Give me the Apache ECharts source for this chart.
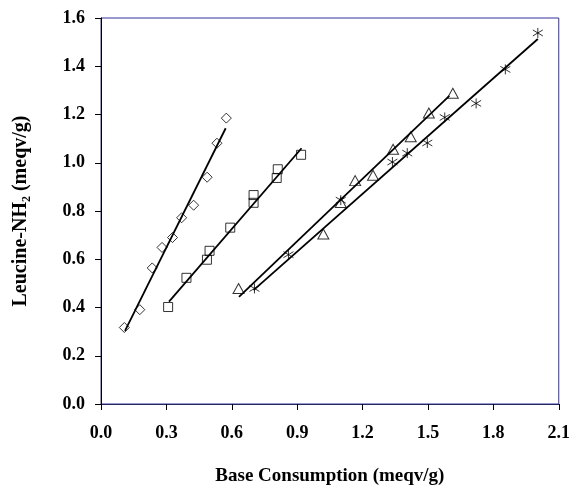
<!DOCTYPE html>
<html>
<head>
<meta charset="utf-8">
<script src="https://cdn.jsdelivr.net/npm/echarts@6/dist/echarts.min.js"></script>
<style>
html,body{margin:0;padding:0;background:#fff;}
#chart{width:573px;height:491px;}
</style>
</head>
<body>
<div id="chart"></div>
<script>
// Axis ticks
const xTicks = [0.0, 0.3, 0.6, 0.9, 1.2, 1.5, 1.8, 2.1];
const yTicks = [0.0, 0.2, 0.4, 0.6, 0.8, 1.0, 1.2, 1.4, 1.6];

// Series 1 (diamonds)
const diamondX = [0.107, 0.178, 0.235, 0.280, 0.328, 0.370, 0.425, 0.487, 0.532, 0.575];
const diamondY = [0.317, 0.391, 0.564, 0.649, 0.690, 0.772, 0.824, 0.940, 1.081, 1.185];
// Series 2 (squares)
const squareX = [0.308, 0.392, 0.486, 0.498, 0.593, 0.700, 0.700, 0.806, 0.811, 0.918];
const squareY = [0.402, 0.523, 0.598, 0.635, 0.731, 0.834, 0.866, 0.937, 0.973, 1.033];
// Series 3 (triangles)
const triangleX = [0.631, 1.020, 1.100, 1.166, 1.248, 1.340, 1.421, 1.504, 1.614];
const triangleY = [0.479, 0.705, 0.835, 0.926, 0.948, 1.056, 1.108, 1.206, 1.288];
// Series 4 (stars)
const starX = [0.704, 0.860, 1.100, 1.337, 1.405, 1.497, 1.577, 1.721, 1.855, 2.004];
const starY = [0.479, 0.619, 0.845, 1.003, 1.040, 1.082, 1.188, 1.246, 1.387, 1.538];

// Trend line end points
const diamondFitX = [0.110, 0.572];
const diamondFitY = [0.303, 1.143];
const squareFitX = [0.312, 0.920];
const squareFitY = [0.424, 1.060];
const triangleFitX = [0.633, 1.598];
const triangleFitY = [0.444, 1.277];
const starFitX = [0.700, 2.004];
const starFitY = [0.472, 1.513];

const zip = (xs, ys) => xs.map((x, i) => [x, ys[i]]);

const FONT = '"Liberation Serif", "Times New Roman", serif';
const STAR = 'path://M5,0 L5,10 M0.7,2 L9.3,8 M0.7,8 L9.3,2';

const markerStyle = {color: 'rgba(255,255,255,0)', borderColor: '#000', borderWidth: 1};

function scatter(name, xs, ys, symbol, size) {
  return {
    name, type: 'scatter', data: zip(xs, ys), symbol, symbolSize: size,
    itemStyle: markerStyle, z: 3, silent: true
  };
}
function fit(xs, ys) {
  return {
    type: 'line', data: zip(xs, ys), symbol: 'none', silent: true, z: 4,
    lineStyle: {color: '#000', width: 1.8}
  };
}

const chart = echarts.init(document.getElementById('chart'), null, {renderer: 'canvas'});
chart.setOption({
  animation: false,
  backgroundColor: '#fff',
  grid: {left: 101, right: 13, top: 18, bottom: 84, show: true, borderColor: '#3333a0', borderWidth: 1, containLabel: false},
  xAxis: {
    type: 'value', min: xTicks[0], max: xTicks[xTicks.length - 1], interval: 0.3,
    name: 'Base Consumption (meqv/g)', nameLocation: 'middle', nameGap: 63,
    nameTextStyle: {fontFamily: FONT, fontWeight: 'bold', fontSize: 19, color: '#000'},
    axisLine: {lineStyle: {color: '#262660', width: 1}},
    axisTick: {show: true, length: 6, lineStyle: {color: '#000'}},
    axisLabel: {fontFamily: FONT, fontWeight: 'bold', fontSize: 18, color: '#000', margin: 20,
      formatter: v => v.toFixed(1)},
    splitLine: {show: false}
  },
  yAxis: {
    type: 'value', min: yTicks[0], max: yTicks[yTicks.length - 1], interval: 0.2,
    name: 'Leucine-NH\u2082 (meqv/g)', nameLocation: 'middle', nameGap: 70, nameRotate: 90,
    nameTextStyle: {fontFamily: FONT, fontWeight: 'bold', fontSize: 20, color: '#000'},
    axisLine: {show: true, lineStyle: {color: '#000', width: 1}},
    axisTick: {show: true, length: 6, lineStyle: {color: '#000'}},
    axisLabel: {fontFamily: FONT, fontWeight: 'bold', fontSize: 18, color: '#000', margin: 16,
      formatter: v => v.toFixed(1)},
    splitLine: {show: false}
  },
  series: [
    scatter('Diamond', diamondX, diamondY, 'diamond', [10, 10]),
    scatter('Square', squareX, squareY, 'rect', [9, 9]),
    scatter('Triangle', triangleX, triangleY, 'triangle', [11, 10]),
    scatter('Star', starX, starY, STAR, [10, 10]),
    fit(diamondFitX, diamondFitY),
    fit(squareFitX, squareFitY),
    fit(triangleFitX, triangleFitY),
    fit(starFitX, starFitY)
  ]
});
</script>
</body>
</html>
